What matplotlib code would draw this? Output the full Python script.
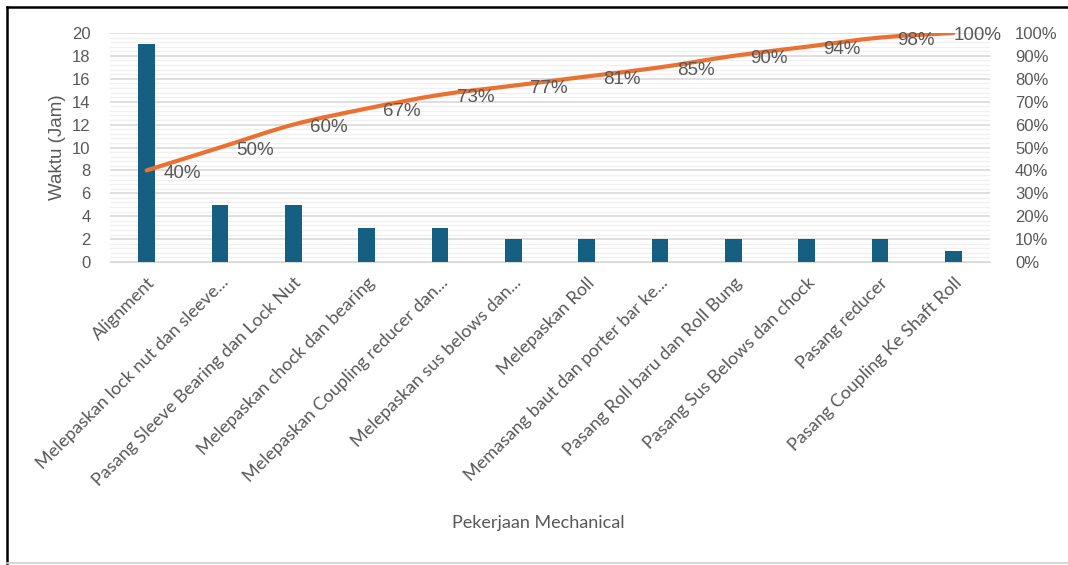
import matplotlib
matplotlib.use('Agg')
import matplotlib.pyplot as plt
from matplotlib.path import Path
from matplotlib.patches import PathPatch
from matplotlib.lines import Line2D
import numpy as np

# data
categories = ['Alignment', 'Melepaskan lock nut dan sleeve...',
              'Pasang Sleeve Bearing dan Lock Nut', 'Melepaskan chock dan bearing',
              'Melepaskan Coupling reducer dan...', 'Melepaskan sus belows dan...',
              'Melepaskan Roll', 'Memasang baut dan porter bar ke...',
              'Pasang Roll baru dan Roll Bung', 'Pasang Sus Belows dan chock',
              'Pasang reducer', 'Pasang Coupling Ke Shaft Roll']
hours = [19, 5, 5, 3, 3, 2, 2, 2, 2, 2, 2, 1]
cum_pct = [40, 50, 60, 67, 73, 77, 81, 85, 90, 94, 98, 100]

bar_color = '#156082'
line_color = '#E97132'
text_color = '#595959'
num_font = 'Liberation Sans'
cat_font = 'Lato'

fig = plt.figure(figsize=(10.68, 5.65), dpi=100)
# frame around the chart (left/top dark, bottom light)
fig.lines.append(Line2D([7 / 1068, 7 / 1068], [2 / 565, 1 - 7 / 565],
                        transform=fig.transFigure, color='black', linewidth=1.8))
fig.lines.append(Line2D([7 / 1068, 1.0], [1 - 7 / 565, 1 - 7 / 565],
                        transform=fig.transFigure, color='black', linewidth=1.8))
fig.lines.append(Line2D([7 / 1068, 1.0], [2 / 565, 2 / 565],
                        transform=fig.transFigure, color='#d0d0d0', linewidth=1.2))

ax = fig.add_axes([110 / 1068, 1 - 262 / 565, 880 / 1068, 229 / 565])
x = np.arange(len(categories))
ax.bar(x, hours, width=0.23, color=bar_color, zorder=3)
ax.set_xlim(-0.5, len(categories) - 0.5)
ax.set_ylim(0, 20)
ax.set_yticks(np.arange(0, 21, 2))
ax.set_yticks(np.arange(0, 20.01, 0.4), minor=True)
ax.grid(axis='y', which='major', color='#d9d9d9', linewidth=1.2, zorder=0)
ax.grid(axis='y', which='minor', color='#f0f0f0', linewidth=1.0, zorder=0)
for s in ['top', 'right', 'left']:
    ax.spines[s].set_visible(False)
ax.spines['bottom'].set_color('#d9d9d9')
ax.tick_params(axis='both', which='both', length=0)
ax.tick_params(axis='y', labelsize=12, labelcolor=text_color, pad=14)
for t in ax.get_yticklabels():
    t.set_fontfamily(num_font)
ax.set_xticks(x)
ax.set_xticklabels(categories, rotation=45, ha='right', rotation_mode='anchor',
                   fontsize=13, color=text_color, fontfamily=cat_font)
ax.tick_params(axis='x', pad=9)
ax.set_ylabel('Waktu (Jam)', fontsize=13.5, color=text_color,
              fontfamily=num_font, labelpad=4)
ax.set_xlabel('Pekerjaan Mechanical', fontsize=13, color=text_color,
              fontfamily=cat_font)
ax.xaxis.set_label_coords(0.487, -1.105)

ax2 = ax.twinx()
ax2.set_ylim(0, 100)
ax2.set_yticks(np.arange(0, 101, 10))
ax2.set_yticklabels([f'{v}%' for v in range(0, 101, 10)])
for s in ax2.spines.values():
    s.set_visible(False)
ax2.tick_params(axis='y', length=0, labelsize=12, labelcolor=text_color, pad=18)
for t in ax2.get_yticklabels():
    t.set_fontfamily(num_font)

# smoothed cumulative line (bezier through the points)
px = x.astype(float)
py = np.array(cum_pct, dtype=float)
verts = [(px[0], py[0])]
codes = [Path.MOVETO]
n = len(px)
for i in range(n - 1):
    p0 = (px[i - 1], py[i - 1]) if i > 0 else (px[i], py[i])
    p3 = (px[i + 2], py[i + 2]) if i + 2 < n else (px[i + 1], py[i + 1])
    c1 = (px[i] + (px[i + 1] - p0[0]) / 6, py[i] + (py[i + 1] - p0[1]) / 6)
    c2 = (px[i + 1] - (p3[0] - px[i]) / 6, py[i + 1] - (p3[1] - py[i]) / 6)
    verts += [c1, c2, (px[i + 1], py[i + 1])]
    codes += [Path.CURVE4] * 3
ax2.add_patch(PathPatch(Path(verts, codes), fill=False, edgecolor=line_color,
                        linewidth=3.0, capstyle='round', joinstyle='round',
                        zorder=4))
for i, (xi, v) in enumerate(zip(px, cum_pct)):
    dx = 0 if i == n - 1 else 12
    ax2.annotate(f'{v}%', (xi, v), xytext=(dx, -2), textcoords='offset points',
                 ha='left', va='center', fontsize=13.5, color='#595959',
                 fontfamily=num_font, zorder=5)

fig.savefig('out.png', dpi=100)
